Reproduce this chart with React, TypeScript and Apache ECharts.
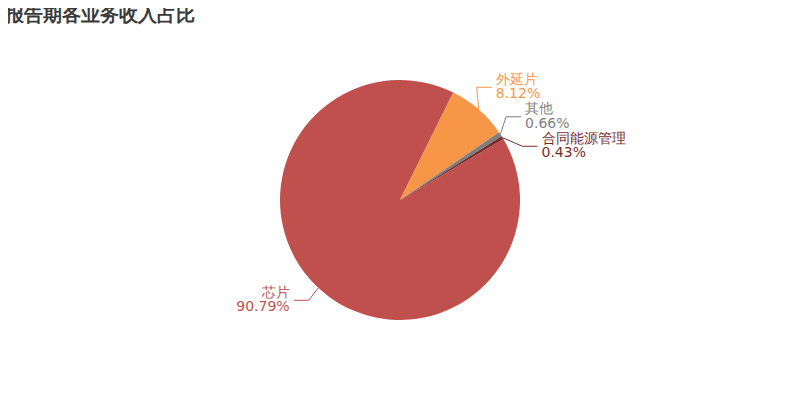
import React, { useEffect, useRef } from "react";
import * as echarts from "echarts";

const categories = ["芯片", "外延片", "其他", "合同能源管理"];
const shares = [90.79, 8.12, 0.66, 0.43];
const colors = ["#c0504d", "#f79646", "#7f7f7f", "#772c2a"];

// pie geometry
const CX = 400;
const CY = 200;
const RADIUS = 120;
const START_ANGLE = 30.5; // echarts convention: degrees ccw from 3 o'clock
const LINE_LEN = 17; // first label-line segment
const LINE_LEN2 = 15; // horizontal label-line segment
const TEXT_GAP = 4;
const ELBOW_RX = 133; // semi-axes of the ellipse on which shifted elbows sit
const ELBOW_RY = 138;
const LABEL_H = 29.5; // height of a two-line label block
const TEXT_LIFT = 1.5; // text centre sits slightly above the line

type Placed = {
  idx: number;
  side: number;
  edge: [number, number];
  y: number;
  h: number;
};

// Natural label anchors from the slice mid-angles, then stack overlapping
// labels on each side around their common centre.
function computeLabelPlacement() {
  const total = shares.reduce((a, b) => a + b, 0);
  let acc = 90 - START_ANGLE; // clockwise from 12 o'clock
  const items: Placed[] = shares.map((v, i) => {
    const span = (v / total) * 360;
    const mid = ((acc + span / 2) * Math.PI) / 180;
    acc += span;
    const s = Math.sin(mid);
    const c = Math.cos(mid);
    return {
      idx: i,
      side: s >= 0 ? 1 : -1,
      edge: [CX + RADIUS * s, CY - RADIUS * c] as [number, number],
      y: CY - (RADIUS + LINE_LEN) * c,
      h: LABEL_H,
    };
  });

  [1, -1].forEach((side) => {
    const list = items.filter((it) => it.side === side).sort((a, b) => a.y - b.y);
    const clusters = list.map((it) => ({ members: [it], natural: [it.y] }));
    const place = (cl: { members: Placed[]; natural: number[] }) => {
      const mean = cl.natural.reduce((a, b) => a + b, 0) / cl.natural.length;
      const totalH = cl.members.reduce((a, m) => a + m.h, 0);
      let cursor = mean - totalH / 2;
      cl.members.forEach((m) => {
        m.y = cursor + m.h / 2;
        cursor += m.h;
      });
    };
    // merge overlapping neighbours into clusters until none overlap
    let changed = true;
    while (changed) {
      changed = false;
      clusters.forEach(place);
      for (let k = 0; k + 1 < clusters.length; k++) {
        const a = clusters[k].members[clusters[k].members.length - 1];
        const b = clusters[k + 1].members[0];
        if (b.y - b.h / 2 < a.y + a.h / 2 - 0.01) {
          clusters[k] = {
            members: clusters[k].members.concat(clusters[k + 1].members),
            natural: clusters[k].natural.concat(clusters[k + 1].natural),
          };
          clusters.splice(k + 1, 1);
          changed = true;
          break;
        }
      }
    }
  });

  return items;
}

export default function App() {
  const ref = useRef<HTMLDivElement>(null);

  useEffect(() => {
    if (!ref.current) return;
    const chart = echarts.init(ref.current, null, { renderer: "svg" });
    const placed = computeLabelPlacement();

    chart.setOption({
      animation: false,
      backgroundColor: "#ffffff",
      title: {
        text: "报告期各业务收入占比",
        left: 5,
        top: 4,
        padding: 0,
        textStyle: {
          fontFamily: "DejaVu Sans",
          fontSize: 19,
          fontWeight: "bold",
          color: "#3a3a3a",
        },
      },
      series: [
        {
          type: "pie",
          center: [CX, CY],
          radius: RADIUS,
          startAngle: START_ANGLE,
          clockwise: true,
          label: {
            show: true,
            position: "outside",
            formatter: "{b}\n{d}%",
            fontFamily: "DejaVu Sans",
            fontSize: 14,
            lineHeight: 14.5,
          },
          labelLine: { show: true, length: LINE_LEN, length2: LINE_LEN2 },
          labelLayout: (params: any) => {
            const p = placed[params.dataIndex];
            if (!p) return {};
            const dy = Math.abs(p.y - CY);
            const dx =
              dy < ELBOW_RY
                ? ELBOW_RX * Math.sqrt(1 - (dy * dy) / (ELBOW_RY * ELBOW_RY))
                : 0;
            const elbowX = CX + p.side * dx;
            const endX = elbowX + p.side * LINE_LEN2;
            return {
              x: endX + p.side * TEXT_GAP,
              y: p.y - TEXT_LIFT,
              align: p.side > 0 ? "left" : "right",
              verticalAlign: "middle",
              labelLinePoints: [p.edge, [elbowX, p.y], [endX, p.y]],
            };
          },
          data: categories.map((name, i) => ({
            name,
            value: shares[i],
            itemStyle: { color: colors[i] },
            label: { color: colors[i] },
            labelLine: { lineStyle: { color: colors[i] } },
          })),
        },
      ],
    });
    return () => chart.dispose();
  }, []);

  return <div ref={ref} style={{ width: 800, height: 400, margin: -8 }} />;
}
